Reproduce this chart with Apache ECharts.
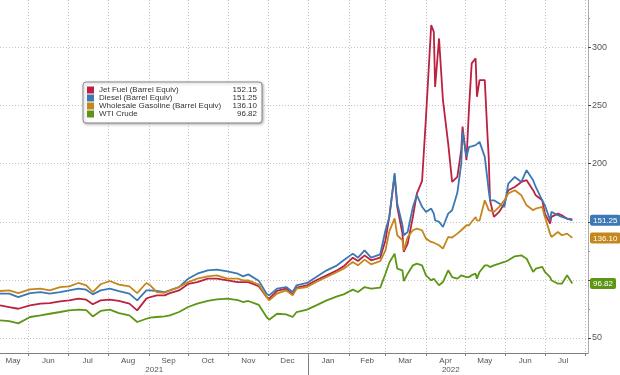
<!DOCTYPE html>
<html>
<head>
<meta charset="utf-8">
<script src="https://cdn.jsdelivr.net/npm/echarts@6/dist/echarts.min.js"></script>
<style>
  html, body { margin: 0; padding: 0; background: #fff; }
  #chart { width: 620px; height: 375px; }
</style>
</head>
<body>
<div id="chart"></div>
<script>
// series names + last values shown in legend / axis tags
const seriesNames = ["Jet Fuel (Barrel Equiv)", "Diesel (Barrel Equiv)", "Wholesale Gasoline (Barrel Equiv)", "WTI Crude"];
const lastValues = [152.15, 151.25, 136.10, 96.82];
const lineColors = ["#bd2140", "#3c78b4", "#c4871d", "#5c9614"];

const dates = [
  "2021-05-10", "2021-05-17", "2021-05-24", "2021-06-02", "2021-06-10", "2021-06-17", "2021-06-25",
  "2021-07-02", "2021-07-09", "2021-07-15", "2021-07-20", "2021-07-26", "2021-08-02", "2021-08-09",
  "2021-08-17", "2021-08-23", "2021-08-30", "2021-09-02", "2021-09-07", "2021-09-13", "2021-09-17",
  "2021-09-24", "2021-10-01", "2021-10-08", "2021-10-16", "2021-10-23", "2021-10-31", "2021-11-08",
  "2021-11-12", "2021-11-16", "2021-11-24", "2021-11-30", "2021-12-02", "2021-12-08", "2021-12-15",
  "2021-12-20", "2021-12-23", "2021-12-31", "2022-01-07", "2022-01-15", "2022-01-23", "2022-01-28",
  "2022-02-04", "2022-02-08", "2022-02-13", "2022-02-18", "2022-02-25", "2022-03-01", "2022-03-04",
  "2022-03-08", "2022-03-10", "2022-03-14", "2022-03-15", "2022-03-18", "2022-03-22", "2022-03-25",
  "2022-03-29", "2022-04-01", "2022-04-05", "2022-04-07", "2022-04-08", "2022-04-11", "2022-04-14",
  "2022-04-18", "2022-04-21", "2022-04-25", "2022-04-28", "2022-04-29", "2022-05-02", "2022-05-04",
  "2022-05-06", "2022-05-09", "2022-05-10", "2022-05-12", "2022-05-16", "2022-05-18", "2022-05-19",
  "2022-05-20", "2022-05-23", "2022-05-27", "2022-05-31", "2022-06-03", "2022-06-08", "2022-06-13",
  "2022-06-17", "2022-06-22", "2022-06-24", "2022-06-29", "2022-07-01", "2022-07-05", "2022-07-06",
  "2022-07-11", "2022-07-14", "2022-07-18", "2022-07-22"
];

const jetFuel = [
  78.0, 76.6, 75.1, 78.0, 79.5, 80.0, 81.5,
  82.3, 83.8, 82.9, 79.0, 82.3, 82.9, 81.8,
  79.5, 73.7, 83.8, 85.2, 86.6, 86.6, 88.6,
  90.9, 96.5, 98.1, 101.0, 101.0, 99.6, 98.1,
  98.1, 98.1, 94.5, 85.2, 83.8, 90.4, 92.4,
  87.5, 93.3, 95.3, 99.6, 103.9, 108.2, 111.6,
  119.1, 116.2, 121.1, 116.8, 119.1, 134.1, 155.0,
  190.0, 162.8, 139.8, 124.0, 131.2, 154.2, 174.3,
  185.0, 240.0, 319.4, 313.6, 266.2, 307.9, 254.7,
  217.4, 184.3, 188.6, 212.0, 232.0, 203.0, 249.0,
  286.4, 290.7, 257.6, 272.0, 272.0, 226.0, 205.9,
  168.5, 154.2, 158.5, 165.7, 177.2, 180.0, 184.3,
  185.8, 177.2, 172.8, 168.5, 157.0, 148.4, 154.2,
  157.0, 155.6, 152.7, 152.15
];

const diesel = [
  88.1, 88.1, 85.2, 88.6, 89.5, 88.1, 89.5,
  90.9, 92.4, 91.5, 87.5, 90.9, 92.4, 90.2,
  88.1, 82.3, 90.9, 90.9, 90.4, 89.5, 90.9,
  93.8, 101.0, 105.3, 108.2, 108.8, 107.3, 105.3,
  103.0, 104.7, 99.3, 88.1, 86.6, 92.4, 93.8,
  89.5, 95.3, 97.3, 102.4, 108.2, 112.5, 116.8,
  122.6, 119.1, 125.4, 119.1, 122.0, 142.7, 154.2,
  192.0, 165.7, 147.0, 138.4, 141.2, 162.8, 173.0,
  163.0, 158.5, 161.4, 157.0, 151.3, 150.0, 145.5,
  157.0, 159.9, 175.0, 200.0, 228.0, 206.0, 214.5,
  215.0, 216.0, 217.4, 218.8, 205.9, 187.0, 177.0,
  168.5, 168.5, 165.7, 162.8, 182.9, 188.6, 184.3,
  194.4, 185.8, 180.0, 168.5, 164.2, 151.3, 158.5,
  155.6, 154.2, 152.7, 151.25
];

const gasoline = [
  90.4, 90.9, 88.6, 91.8, 92.4, 90.9, 93.8,
  94.4, 97.3, 95.3, 89.5, 96.2, 99.0, 95.9,
  94.4, 88.6, 97.3, 95.3, 89.5, 88.9, 90.9,
  93.8, 98.0, 101.0, 103.0, 103.9, 101.0, 101.0,
  99.6, 99.6, 96.0, 85.2, 82.3, 88.1, 90.9,
  86.6, 92.4, 93.8, 98.1, 102.4, 106.8, 109.6,
  115.4, 112.5, 117.4, 113.4, 116.2, 125.4, 142.0,
  153.0, 138.4, 134.1, 125.4, 136.9, 142.7, 144.1,
  142.7, 135.5, 132.6, 132.0, 131.2, 129.8, 126.9,
  136.9, 136.4, 139.8, 142.7, 144.0, 147.0, 147.0,
  150.0, 154.0, 151.3, 151.0, 168.5, 163.0, 160.0,
  160.0, 158.5, 162.8, 168.5, 174.3, 177.2, 172.8,
  164.2, 159.9, 161.4, 162.8, 154.2, 139.8, 136.9,
  141.2, 138.4, 139.8, 136.10
];

const wti = [
  65.1, 64.5, 62.5, 68.0, 69.4, 70.8, 72.3,
  73.7, 74.3, 74.0, 68.5, 73.2, 74.3, 71.4,
  69.4, 63.7, 66.5, 67.4, 68.0, 68.5, 69.4,
  72.3, 76.6, 79.5, 81.8, 83.2, 83.8, 82.5,
  80.9, 81.8, 78.5, 68.0, 65.7, 70.8, 70.3,
  68.0, 72.3, 74.3, 78.0, 82.3, 85.8, 87.5,
  91.6, 89.5, 93.8, 92.4, 93.3, 105.3, 115.0,
  122.6, 109.6, 108.2, 99.0, 105.3, 112.5, 113.9,
  112.5, 103.9, 99.6, 101.0, 99.6, 95.3, 98.1,
  108.2, 102.4, 101.0, 103.9, 103.0, 102.4, 102.4,
  104.0, 105.3, 101.0, 106.8, 112.5, 112.5, 111.1,
  111.0, 112.5, 113.9, 115.4, 116.8, 120.3, 121.1,
  118.2, 106.8, 109.6, 111.1, 106.8, 102.4, 99.6,
  96.7, 96.7, 103.9, 96.82
];

// axis text and tick positions
const monthStarts = ["2021-06-01", "2021-07-01", "2021-08-01", "2021-09-01", "2021-10-01", "2021-11-01",
  "2021-12-01", "2022-01-01", "2022-02-01", "2022-03-01", "2022-04-01", "2022-05-01", "2022-06-01",
  "2022-07-01", "2022-08-01"];
const monthLabelDates = ["2021-05-20", "2021-06-16", "2021-07-16", "2021-08-16", "2021-09-16", "2021-10-16",
  "2021-11-16", "2021-12-16", "2022-01-16", "2022-02-15", "2022-03-16", "2022-04-16", "2022-05-16",
  "2022-06-16", "2022-07-15"];
const monthLabels = ["May", "Jun", "Jul", "Aug", "Sep", "Oct", "Nov", "Dec", "Jan", "Feb", "Mar", "Apr", "May", "Jun", "Jul"];
const yearLabelDates = ["2021-09-05", "2022-04-20"];
const yearLabels = ["2021", "2022"];
const yearBreak = "2022-01-01";
const yTicks = [50, 100, 150, 200, 250, 300];
const yMinorTicks = [75, 125, 175, 225, 275, 325];
const yLabels = [50, 200, 250, 300];

function ts(s) {
  const p = s.split("-").map(Number);
  return Date.UTC(p[0], p[1] - 1, p[2]);
}

const xMin = ts("2021-05-10");
const xMax = ts("2022-08-03");
const yMin = 37;
const yMax = 341;
const gridLine = { show: true, lineStyle: { color: "#c4c4c4", type: [1, 2], width: 1 } };

const chart = echarts.init(document.getElementById("chart"));
const allValues = [jetFuel, diesel, gasoline, wti];

function labelFrom(list, texts) {
  const keys = list.map(ts);
  return function (v) {
    const i = keys.indexOf(v);
    return i >= 0 ? texts[i] : "";
  };
}

const option = {
  animation: false,
  textStyle: { fontFamily: "Liberation Sans" },
  grid: { left: 0, right: 32, top: 0, bottom: 22, outerBoundsMode: "none", containLabel: false },
  legend: {
    data: seriesNames,
    selectedMode: false,
    orient: "vertical",
    left: 83,
    top: 82,
    icon: "rect",
    itemWidth: 7,
    itemHeight: 7,
    itemGap: 0,
    padding: [4, 5, 5, 4],
    backgroundColor: "#fff",
    borderColor: "#8a8a8a",
    borderWidth: 1,
    borderRadius: 3,
    shadowBlur: 3,
    shadowColor: "rgba(0,0,0,0.3)",
    shadowOffsetX: 1,
    shadowOffsetY: 1,
    formatter: function (name) {
      const i = seriesNames.indexOf(name);
      return "{n|" + name + "}{v|" + lastValues[i].toFixed(2) + "}";
    },
    textStyle: {
      rich: {
        n: { fontSize: 8, color: "#333", width: 132, lineHeight: 10 },
        v: { fontSize: 8, color: "#333", width: 26, align: "right", lineHeight: 10 }
      }
    }
  },
  xAxis: [
    {
      type: "value",
      position: "bottom",
      min: xMin,
      max: xMax,
      axisLine: { lineStyle: { color: "#808080" } },
      axisTick: { customValues: monthStarts.map(ts), length: 3, lineStyle: { color: "#808080" } },
      axisLabel: { show: false },
      splitLine: gridLine
    },
    {
      type: "value",
      position: "bottom",
      min: xMin,
      max: xMax,
      axisLine: { show: false },
      axisTick: { show: false },
      splitLine: { show: false },
      axisLabel: {
        customValues: monthLabelDates.map(ts),
        margin: 4,
        fontSize: 8,
        color: "#555",
        formatter: labelFrom(monthLabelDates, monthLabels)
      }
    },
    {
      type: "value",
      position: "bottom",
      min: xMin,
      max: xMax,
      axisLine: { show: false },
      axisTick: { customValues: [ts(yearBreak)], length: 22, lineStyle: { color: "#808080" } },
      splitLine: { show: false },
      axisLabel: {
        customValues: yearLabelDates.map(ts),
        margin: 13,
        fontSize: 8,
        color: "#555",
        formatter: labelFrom(yearLabelDates, yearLabels)
      }
    }
  ],
  yAxis: [
    {
      type: "value",
      position: "right",
      min: yMin,
      max: yMax,
      axisLine: { show: true, lineStyle: { color: "#b4aab0" } },
      axisTick: { show: true, customValues: yTicks, length: 3, lineStyle: { color: "#444" } },
      axisLabel: { customValues: yLabels, margin: 4, fontSize: 9, color: "#555" },
      splitLine: gridLine
    },
    {
      type: "value",
      position: "right",
      min: yMin,
      max: yMax,
      axisLine: { show: false },
      axisTick: { show: true, customValues: yMinorTicks, length: 2, lineStyle: { color: "#999" } },
      axisLabel: { show: false },
      splitLine: { show: false }
    },
    {
      type: "value",
      position: "right",
      min: yMin,
      max: yMax,
      axisLine: { show: false },
      axisTick: { show: false },
      splitLine: { show: false },
      axisLabel: {
        customValues: lastValues.slice(1),
        margin: 2,
        formatter: function (v) {
          const i = lastValues.findIndex(function (x) { return Math.abs(x - v) < 0.001; });
          return "{t" + i + "|" + lastValues[i].toFixed(2) + "}";
        },
        rich: {
          t1: { backgroundColor: lineColors[1], color: "#fff", fontSize: 8, padding: [2, 3, 1, 3], borderRadius: 2 },
          t2: { backgroundColor: lineColors[2], color: "#fff", fontSize: 8, padding: [2, 3, 1, 3], borderRadius: 2 },
          t3: { backgroundColor: lineColors[3], color: "#fff", fontSize: 8, padding: [2, 3, 1, 3], borderRadius: 2 }
        }
      }
    }
  ],
  series: seriesNames.map(function (name, k) {
    return {
      name: name,
      type: "line",
      xAxisIndex: 0,
      yAxisIndex: 0,
      showSymbol: false,
      color: lineColors[k],
      lineStyle: { width: 1.8, color: lineColors[k] },
      data: dates.map(function (d, i) { return [ts(d), allValues[k][i]]; })
    };
  })
};

chart.setOption(option);
</script>
</body>
</html>
